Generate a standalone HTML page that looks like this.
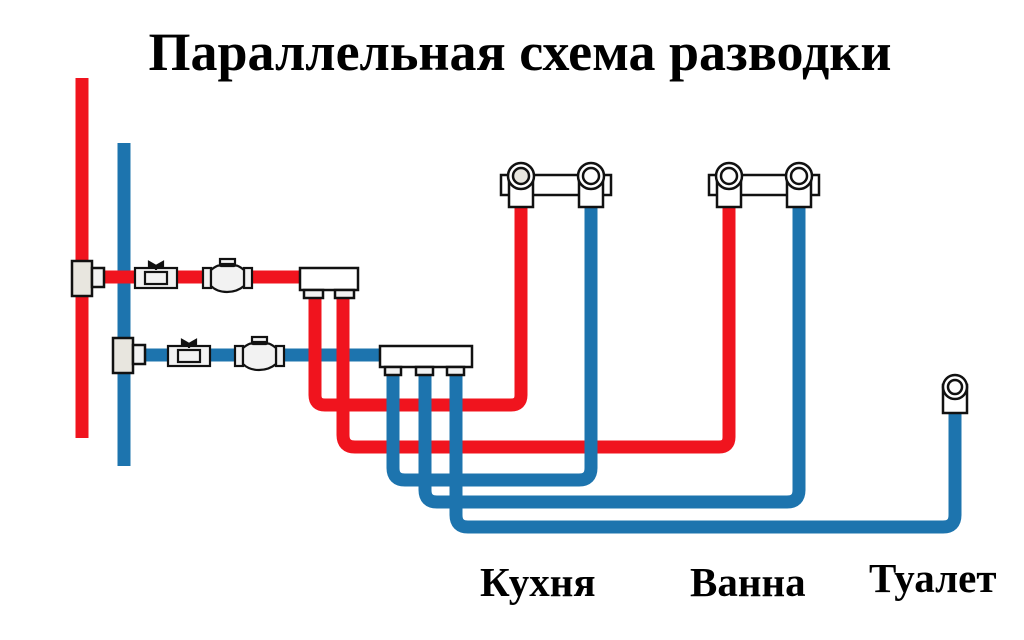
<!DOCTYPE html>
<html><head><meta charset="utf-8"><style>
html,body{margin:0;padding:0;background:#fff;width:1024px;height:640px;overflow:hidden}
</style></head><body>
<svg width="1024" height="640" xmlns="http://www.w3.org/2000/svg">
<text x="520" y="70" text-anchor="middle" font-family="Liberation Serif, serif" font-weight="bold" font-size="54">Параллельная схема разводки</text>
<g fill="none" stroke-width="13" stroke-linejoin="round" stroke-linecap="butt">
<line x1="82" y1="78" x2="82" y2="438" stroke="#f0141e"/>
<line x1="124" y1="143" x2="124" y2="466" stroke="#1d74ae"/>
<line x1="90" y1="277" x2="300" y2="277" stroke="#f0141e"/>
<line x1="130" y1="355" x2="382" y2="355" stroke="#1d74ae"/>
<path d="M315 296 V395 Q315 405 325 405 H511 Q521 405 521 395 V205" stroke="#f0141e"/>
<path d="M343 296 V435 Q343 447 355 447 H719 Q729 447 729 437 V205" stroke="#f0141e"/>
<path d="M393 372 V468 Q393 480 405 480 H579 Q591 480 591 468 V205" stroke="#1d74ae"/>
<path d="M425 372 V490 Q425 502 437 502 H787 Q799 502 799 490 V205" stroke="#1d74ae"/>
<path d="M456 372 V515 Q456 527 468 527 H943 Q955 527 955 515 V412" stroke="#1d74ae"/>
</g>
<g stroke="#111" stroke-width="2.5" fill="#f2f2f2">
<rect x="72" y="261" width="20" height="35" fill="#e8e6df"/><rect x="92" y="268" width="12" height="19"/>
<rect x="113" y="338" width="20" height="35" fill="#e8e6df"/><rect x="133" y="345" width="12" height="19"/>
<rect x="300" y="268" width="58" height="22" fill="#fff"/>
<rect x="304" y="290" width="19" height="8"/><rect x="335" y="290" width="19" height="8"/>
<rect x="380" y="346" width="92" height="21" fill="#fff"/>
<rect x="385" y="367" width="16" height="8"/><rect x="416" y="367" width="17" height="8"/><rect x="447" y="367" width="17" height="8"/>
</g>
<g stroke="#111" stroke-width="2.2" fill="#f2f2f2">
<g transform="translate(135,258)">
<rect x="0" y="10" width="42" height="20"/><rect x="10" y="14" width="22" height="12"/>
<path d="M14 4 L21 8 L28 4 L28 8 L21 10 L14 8Z" fill="#111"/><line x1="21" y1="8" x2="21" y2="12"/>
</g>
<g transform="translate(168,336)">
<rect x="0" y="10" width="42" height="20"/><rect x="10" y="14" width="22" height="12"/>
<path d="M14 4 L21 8 L28 4 L28 8 L21 10 L14 8Z" fill="#111"/><line x1="21" y1="8" x2="21" y2="12"/>
</g>
<g transform="translate(203,256)">
<rect x="0" y="12" width="8" height="20"/><rect x="41" y="12" width="8" height="20"/>
<path d="M8 14 Q15 8 18 10 L31 10 Q34 8 41 14 L41 30 Q34 36 24 36 Q14 36 8 30Z"/>
<rect x="17" y="3" width="15" height="5"/><line x1="24" y1="8" x2="24" y2="10"/>
</g>
<g transform="translate(235,334)">
<rect x="0" y="12" width="8" height="20"/><rect x="41" y="12" width="8" height="20"/>
<path d="M8 14 Q15 8 18 10 L31 10 Q34 8 41 14 L41 30 Q34 36 24 36 Q14 36 8 30Z"/>
<rect x="17" y="3" width="15" height="5"/><line x1="24" y1="8" x2="24" y2="10"/>
</g>
</g>
<g stroke="#111" stroke-width="2.5" fill="#fff">
<g transform="translate(500,0)">
<rect x="1" y="175" width="110" height="20"/>
<rect x="9" y="175" width="24" height="32"/><circle cx="21" cy="176" r="13"/><circle cx="21" cy="176" r="8" fill="#e8e6df"/>
<rect x="79" y="175" width="24" height="32"/><circle cx="91" cy="176" r="13"/><circle cx="91" cy="176" r="8"/>
</g>
<g transform="translate(708,0)">
<rect x="1" y="175" width="110" height="20"/>
<rect x="9" y="175" width="24" height="32"/><circle cx="21" cy="176" r="13"/><circle cx="21" cy="176" r="8"/>
<rect x="79" y="175" width="24" height="32"/><circle cx="91" cy="176" r="13"/><circle cx="91" cy="176" r="8"/>
</g>
<rect x="943" y="385" width="24" height="28"/><circle cx="955" cy="387" r="12"/><circle cx="955" cy="387" r="7"/>
</g>
<g font-family="Liberation Serif, serif" font-weight="bold" font-size="41">
<text x="480" y="596">Кухня</text>
<text x="690" y="596">Ванна</text>
<text x="869" y="592">Туалет</text>
</g>
</svg>
</body></html>
